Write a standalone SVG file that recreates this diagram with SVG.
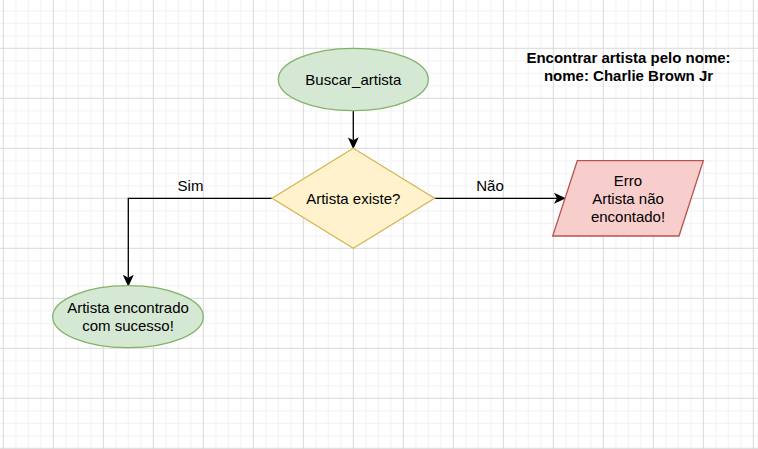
<svg xmlns="http://www.w3.org/2000/svg" width="758" height="449" viewBox="0 0 758 449">
  <defs>
    <pattern id="grid" patternUnits="userSpaceOnUse" x="2.8" y="-2.2" width="50" height="50">
      <rect x="12.5" y="0" width="1" height="50" fill="#f1f1f1"/>
      <rect x="25" y="0" width="1" height="50" fill="#f1f1f1"/>
      <rect x="37.5" y="0" width="1" height="50" fill="#f1f1f1"/>
      <rect x="0" y="12.5" width="50" height="1" fill="#f1f1f1"/>
      <rect x="0" y="25" width="50" height="1" fill="#f1f1f1"/>
      <rect x="0" y="37.5" width="50" height="1" fill="#f1f1f1"/>
      <rect x="0" y="0" width="1" height="50" fill="#d9d9d9"/>
      <rect x="0" y="0" width="50" height="1" fill="#d9d9d9"/>
    </pattern>
    <marker id="arrow" markerUnits="userSpaceOnUse" viewBox="0 0 12 11" refX="3" refY="5.5" markerWidth="12" markerHeight="11" orient="auto">
      <path d="M12,5.5 L0,0 L3,5.5 L0,11 Z" fill="#000"/>
    </marker>
    <style>
      text { font-family: "Liberation Sans", Arial, Helvetica, sans-serif; font-size: 15px; fill: #000; text-anchor: middle; }
      .bold { font-weight: bold; }
      .edge { fill: none; stroke: #000; stroke-width: 1.3; }
      .green { fill: #d5e8d4; stroke: #82b366; stroke-width: 1.3; }
      .yellow { fill: #fff2cc; stroke: #d6b656; stroke-width: 1.3; }
      .red { fill: #f8cecc; stroke: #b85450; stroke-width: 1.3; }
    </style>
  </defs>
  <rect width="758" height="449" fill="#ffffff"/>
  <rect width="758" height="449" fill="url(#grid)"/>

  <g id="title">
    <text class="bold" x="628.5" y="63.3">Encontrar artista pelo nome:</text>
    <text class="bold" x="628.5" y="81.3">nome: Charlie Brown Jr</text>
  </g>

  <g id="connectors">
    <path class="edge" d="M353.3,110.8 L353.3,140.3" marker-end="url(#arrow)"/>
    <path class="edge" d="M434.6,198.3 L557,198.3" marker-end="url(#arrow)"/>
    <path class="edge" d="M272.1,198.3 L128.3,198.3 L128.3,277.7" marker-end="url(#arrow)"/>
    <text x="490" y="190.7">Não</text>
    <text x="190.5" y="190.7">Sim</text>
  </g>

  <g id="buscar_artista">
    <ellipse class="green" cx="353.3" cy="79.5" rx="75" ry="31.2"/>
    <text x="353.3" y="85.3">Buscar_artista</text>
  </g>

  <g id="artista_existe">
    <polygon class="yellow" points="353.3,148.3 434.6,198.3 353.3,248.3 272.1,198.3"/>
    <text x="353.3" y="204">Artista existe?</text>
  </g>

  <g id="erro">
    <polygon class="red" points="577.3,160.7 703.3,160.7 679,236 552.7,236"/>
    <text x="628" y="186">Erro</text>
    <text x="628" y="204">Artista não</text>
    <text x="628" y="222">encontado!</text>
  </g>

  <g id="encontrado">
    <ellipse class="green" cx="128" cy="316.7" rx="75.3" ry="31"/>
    <text x="128" y="313">Artista encontrado</text>
    <text x="128" y="331">com sucesso!</text>
  </g>
</svg>
